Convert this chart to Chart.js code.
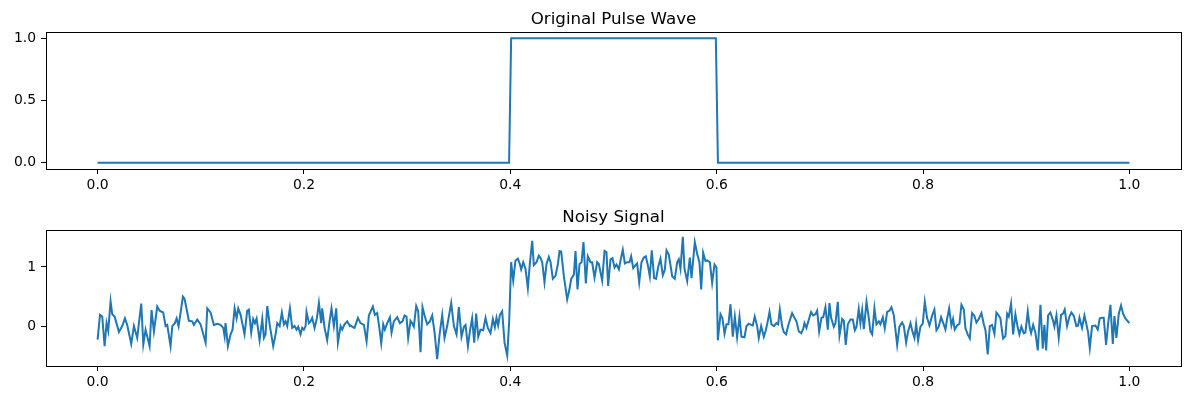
<!DOCTYPE html>
<html>
<head>
<meta charset="utf-8">
<script src="https://cdn.jsdelivr.net/npm/chart.js@4/dist/chart.umd.min.js"></script>
<style>
  body { margin: 0; background: #fff; }
  #wrap { position: relative; width: 1189px; height: 397px; }
  .panel { position: absolute; left: 0; width: 1189px; }
</style>
</head>
<body>
<div id="wrap">
  <div class="panel" style="top:0;height:197px"><canvas id="pulse"></canvas></div>
  <div class="panel" style="top:197px;height:200px"><canvas id="noisy"></canvas></div>
</div>
<script>
// pulse wave (0 outside 0.4..0.6, 1 inside)
const pulseTime = [0, 0.3988, 0.4008, 0.5992, 0.6012, 1.0];
const pulseValue = [0, 0, 1, 1, 0, 0];

// noisy signal
const noisyTime = [
  0.0000, 0.0023, 0.0045, 0.0068, 0.0087, 0.0103, 0.0126, 0.0142, 0.0165, 0.0207,
  0.0239, 0.0265, 0.0287, 0.0326, 0.0352, 0.0384, 0.0423, 0.0443, 0.0465, 0.0504,
  0.0523, 0.0546, 0.0578, 0.0601, 0.0636, 0.0659, 0.0675, 0.0707, 0.0724, 0.0749,
  0.0766, 0.0785, 0.0827, 0.0843, 0.0885, 0.0917, 0.0933, 0.0966, 0.0998, 0.1047,
  0.1063, 0.1095, 0.1127, 0.1160, 0.1192, 0.1218, 0.1231, 0.1240, 0.1263, 0.1289,
  0.1308, 0.1328, 0.1347, 0.1363, 0.1386, 0.1424, 0.1450, 0.1466, 0.1489, 0.1508,
  0.1525, 0.1541, 0.1570, 0.1596, 0.1612, 0.1628, 0.1644, 0.1670, 0.1702, 0.1725,
  0.1741, 0.1764, 0.1786, 0.1806, 0.1822, 0.1838, 0.1864, 0.1886, 0.1909, 0.1928,
  0.1944, 0.1967, 0.1983, 0.1999, 0.2016, 0.2025, 0.2048, 0.2064, 0.2080, 0.2103,
  0.2125, 0.2145, 0.2167, 0.2177, 0.2200, 0.2225, 0.2248, 0.2267, 0.2290, 0.2313,
  0.2329, 0.2355, 0.2371, 0.2393, 0.2419, 0.2445, 0.2452, 0.2477, 0.2490, 0.2523,
  0.2548, 0.2581, 0.2607, 0.2629, 0.2668, 0.2687, 0.2710, 0.2726, 0.2749, 0.2768,
  0.2784, 0.2807, 0.2833, 0.2849, 0.2871, 0.2904, 0.2930, 0.2955, 0.2975, 0.2994,
  0.3010, 0.3033, 0.3049, 0.3065, 0.3088, 0.3107, 0.3130, 0.3149, 0.3169, 0.3194,
  0.3220, 0.3243, 0.3266, 0.3291, 0.3314, 0.3340, 0.3362, 0.3388, 0.3427, 0.3453,
  0.3479, 0.3501, 0.3527, 0.3550, 0.3566, 0.3589, 0.3608, 0.3630, 0.3650, 0.3669,
  0.3689, 0.3711, 0.3737, 0.3760, 0.3782, 0.3808, 0.3831, 0.3850, 0.3866, 0.3882,
  0.3899, 0.3921, 0.3944, 0.3970, 0.3989, 0.4008, 0.4028, 0.4050, 0.4073, 0.4092,
  0.4105, 0.4125, 0.4147, 0.4170, 0.4189, 0.4212, 0.4228, 0.4254, 0.4276, 0.4293,
  0.4309, 0.4331, 0.4351, 0.4373, 0.4390, 0.4412, 0.4438, 0.4461, 0.4477, 0.4493,
  0.4519, 0.4551, 0.4574, 0.4590, 0.4616, 0.4632, 0.4651, 0.4671, 0.4690, 0.4709,
  0.4732, 0.4751, 0.4777, 0.4793, 0.4816, 0.4842, 0.4858, 0.4890, 0.4913, 0.4932,
  0.4948, 0.4971, 0.4990, 0.5010, 0.5029, 0.5052, 0.5068, 0.5090, 0.5110, 0.5133,
  0.5155, 0.5171, 0.5191, 0.5213, 0.5229, 0.5249, 0.5271, 0.5294, 0.5313, 0.5333,
  0.5352, 0.5371, 0.5394, 0.5413, 0.5433, 0.5455, 0.5478, 0.5497, 0.5514, 0.5536,
  0.5569, 0.5594, 0.5617, 0.5633, 0.5649, 0.5672, 0.5688, 0.5714, 0.5740, 0.5756,
  0.5788, 0.5811, 0.5833, 0.5850, 0.5869, 0.5891, 0.5908, 0.5934, 0.5956, 0.5979,
  0.5998, 0.6011, 0.6037, 0.6056, 0.6076, 0.6095, 0.6114, 0.6134, 0.6156, 0.6176,
  0.6198, 0.6221, 0.6240, 0.6269, 0.6289, 0.6311, 0.6334, 0.6350, 0.6369, 0.6392,
  0.6408, 0.6431, 0.6457, 0.6476, 0.6495, 0.6512, 0.6531, 0.6554, 0.6579, 0.6596,
  0.6612, 0.6634, 0.6650, 0.6673, 0.6692, 0.6709, 0.6731, 0.6754, 0.6773, 0.6796,
  0.6819, 0.6838, 0.6851, 0.6870, 0.6893, 0.6915, 0.6935, 0.6957, 0.6974, 0.6993,
  0.7016, 0.7032, 0.7054, 0.7077, 0.7093, 0.7109, 0.7135, 0.7151, 0.7174, 0.7190,
  0.7216, 0.7232, 0.7251, 0.7271, 0.7297, 0.7319, 0.7339, 0.7355, 0.7377, 0.7393,
  0.7410, 0.7426, 0.7452, 0.7474, 0.7490, 0.7507, 0.7529, 0.7548, 0.7571, 0.7587,
  0.7610, 0.7629, 0.7652, 0.7674, 0.7694, 0.7716, 0.7733, 0.7749, 0.7771, 0.7797,
  0.7813, 0.7836, 0.7855, 0.7878, 0.7897, 0.7917, 0.7933, 0.7952, 0.7975, 0.7997,
  0.8017, 0.8039, 0.8062, 0.8088, 0.8110, 0.8130, 0.8152, 0.8175, 0.8194, 0.8217,
  0.8233, 0.8253, 0.8275, 0.8291, 0.8307, 0.8330, 0.8353, 0.8372, 0.8395, 0.8411,
  0.8433, 0.8453, 0.8475, 0.8498, 0.8517, 0.8540, 0.8566, 0.8589, 0.8605, 0.8627,
  0.8647, 0.8669, 0.8692, 0.8711, 0.8734, 0.8750, 0.8760, 0.8776, 0.8798, 0.8815,
  0.8831, 0.8853, 0.8873, 0.8895, 0.8918, 0.8934, 0.8953, 0.8976, 0.8992, 0.9015,
  0.9034, 0.9047, 0.9067, 0.9089, 0.9112, 0.9138, 0.9160, 0.9176, 0.9193, 0.9212,
  0.9234, 0.9257, 0.9273, 0.9293, 0.9315, 0.9338, 0.9357, 0.9373, 0.9396, 0.9419,
  0.9438, 0.9461, 0.9486, 0.9503, 0.9516, 0.9541, 0.9564, 0.9583, 0.9600, 0.9616,
  0.9638, 0.9671, 0.9693, 0.9713, 0.9735, 0.9751, 0.9774, 0.9793, 0.9816, 0.9839,
  0.9855, 0.9874, 0.9897, 0.9919, 0.9939, 0.9961, 1.0000
];
const noisyValue = [
  -0.23, 0.19, 0.16, -0.34, 0.05, -0.08, 0.42, 0.20, 0.16, -0.10,
  0.00, 0.13, 0.02, -0.30, 0.00, -0.20, 0.38, -0.31, -0.06, -0.34,
  0.27, -0.09, 0.33, 0.26, 0.23, 0.00, 0.02, -0.34, 0.00, 0.05,
  0.13, 0.00, 0.50, 0.46, 0.09, 0.08, 0.02, 0.11, 0.03, -0.28,
  0.30, 0.23, 0.02, 0.04, 0.02, -0.03, -0.17, 0.05, -0.34, -0.14,
  -0.06, 0.30, 0.13, 0.30, 0.19, -0.14, 0.26, 0.28, -0.11, 0.12,
  0.05, 0.13, -0.24, 0.12, -0.20, -0.14, 0.34, 0.00, -0.34, -0.14,
  0.05, 0.00, 0.23, 0.03, 0.08, 0.00, 0.30, -0.03, 0.00, -0.06,
  -0.01, -0.14, -0.03, -0.06, 0.00, 0.24, 0.05, 0.08, 0.14, -0.03,
  0.13, 0.39, 0.05, 0.30, -0.03, -0.24, 0.08, 0.30, 0.00, 0.30,
  -0.28, 0.00, -0.06, 0.03, 0.08, 0.00, 0.01, -0.02, -0.03, 0.14,
  0.05, 0.02, -0.26, 0.18, 0.33, 0.19, 0.22, 0.03, -0.29, 0.03,
  -0.06, 0.05, 0.15, -0.11, 0.08, 0.15, 0.05, 0.08, 0.18, 0.16,
  -0.20, 0.09, 0.05, -0.01, 0.34, 0.25, -0.44, 0.32, 0.18, 0.03,
  0.08, 0.18, -0.11, -0.56, -0.15, 0.19, -0.20, 0.00, 0.39, 0.00,
  -0.14, 0.32, -0.18, -0.01, 0.02, -0.34, -0.09, 0.13, -0.28, 0.21,
  -0.18, -0.06, -0.07, 0.14, -0.03, -0.12, 0.12, -0.02, 0.14, 0.01,
  0.19, 0.25, -0.28, -0.50, 0.08, 1.08, 0.77, 1.11, 1.14, 1.05,
  0.96, 1.08, 0.97, 0.64, 1.05, 1.44, 1.03, 1.08, 1.19, 1.15,
  1.08, 0.74, 1.05, 1.17, 1.08, 0.80, 0.85, 1.05, 1.27, 1.26,
  0.84, 0.45, 0.63, 0.80, 0.87, 1.27, 0.62, 1.05, 1.08, 1.42,
  0.72, 1.18, 1.08, 1.08, 0.82, 1.08, 1.05, 0.77, 1.27, 1.25,
  0.68, 1.13, 1.15, 0.99, 1.04, 0.96, 1.11, 1.29, 1.06, 1.08,
  1.08, 1.18, 0.98, 1.03, 1.06, 0.74, 1.08, 1.16, 1.18, 1.03,
  0.84, 1.28, 0.81, 0.80, 1.00, 1.14, 0.86, 0.95, 1.28, 1.21,
  0.84, 0.80, 1.08, 1.13, 0.97, 1.51, 0.97, 0.76, 1.16, 0.81,
  1.42, 1.22, 1.08, 0.62, 1.24, 1.10, 1.11, 1.08, 0.73, 1.04,
  0.99, -0.24, 0.20, 0.13, -0.13, 0.03, 0.03, 0.37, -0.18, 0.16,
  -0.19, 0.16, -0.18, -0.19, 0.00, 0.04, 0.02, 0.01, 0.16, 0.00,
  -0.20, 0.00, -0.18, -0.07, 0.08, 0.24, 0.03, 0.00, 0.05, 0.03,
  0.28, 0.00, -0.10, -0.14, 0.00, 0.10, 0.22, 0.14, 0.08, -0.09,
  -0.12, -0.05, 0.05, -0.03, 0.11, 0.24, 0.18, 0.20, 0.26, -0.09,
  0.14, 0.15, 0.32, -0.06, 0.39, 0.14, -0.01, 0.05, 0.41, -0.16,
  0.12, 0.09, -0.32, 0.03, 0.11, 0.11, -0.07, -0.01, 0.29, 0.05,
  0.27, -0.05, 0.41, 0.14, -0.09, -0.14, 0.30, 0.03, 0.08, 0.03,
  0.15, -0.04, 0.24, 0.26, 0.32, 0.19, -0.07, -0.32, -0.01, 0.06,
  0.01, -0.28, -0.09, 0.05, -0.09, -0.20, 0.04, -0.24, -0.01, 0.04,
  0.41, 0.14, 0.01, 0.18, 0.28, -0.07, -0.01, 0.15, 0.06, -0.06,
  0.12, 0.30, 0.01, 0.12, -0.06, 0.01, 0.04, 0.36, 0.28, -0.04,
  -0.14, -0.21, 0.22, 0.17, 0.06, 0.12, 0.22, 0.03, -0.07, -0.48,
  0.00, 0.02, -0.13, 0.23, 0.18, 0.13, -0.01, -0.21, -0.17, 0.21,
  0.16, 0.38, -0.14, 0.20, -0.03, -0.14, -0.01, -0.12, -0.11, 0.25,
  -0.03, -0.12, 0.02, -0.11, -0.41, 0.36, -0.38, 0.02, -0.41, 0.18,
  0.23, 0.11, -0.01, 0.18, -0.20, 0.19, 0.21, 0.28, 0.00, 0.16,
  0.23, 0.17, 0.00, 0.01, 0.14, -0.03, 0.18, 0.03, -0.11, -0.37,
  0.00, 0.01, -0.06, 0.13, 0.14, 0.14, -0.32, 0.03, 0.36, -0.30,
  0.17, -0.20, 0.21, 0.35, 0.21, 0.13, 0.05
];

const xTicks = [0, 0.2, 0.4, 0.6, 0.8, 1.0];
const pulseTicks = [0, 0.5, 1.0];
const noisyTicks = [0, 1];

const lineBlue = '#1f77b4';
const font = 'DejaVu Sans';

// matplotlib style frame round the plot area, title centred over the axes
const boxPlugin = {
  id: 'box',
  afterDraw(chart, args, opts) {
    const a = chart.chartArea, ctx = chart.ctx;
    ctx.save();
    ctx.strokeStyle = '#000';
    ctx.lineWidth = 1;
    ctx.strokeRect(Math.round(a.left) + 0.5, Math.round(a.top) + 0.5,
      Math.round(a.right - a.left), Math.round(a.bottom - a.top));
    ctx.fillStyle = '#000';
    ctx.font = '16.7px "DejaVu Sans"';
    ctx.textAlign = 'center';
    ctx.textBaseline = 'alphabetic';
    ctx.fillText(opts.text, (a.left + a.right) / 2, a.top - 8);
    ctx.restore();
  }
};

const makePanel = (el, title, xs, ys, yMin, yMax, yTicks, yFmt, padTop, xHeight) => {
  const points = xs.map((x, i) => ({x: x, y: ys[i]}));
  const axisBits = {
    grid: { drawOnChartArea: false, drawTicks: true, tickLength: 5, color: '#000', tickColor: '#000' },
    border: { display: true, color: '#000', width: 1 }
  };
  return new Chart(el, {
    type: 'line',
    data: {
      datasets: [{
        data: points,
        borderColor: lineBlue,
        borderWidth: 2,
        pointRadius: 0,
        tension: 0,
        fill: false
      }]
    },
    options: {
      responsive: true,
      maintainAspectRatio: false,
      animation: false,
      layout: { padding: { left: 0, right: 8, top: padTop, bottom: 0 } },
      plugins: {
        legend: { display: false },
        tooltip: { enabled: false },
        title: { display: false },
        box: { text: title }
      },
      scales: {
        x: {
          type: 'linear',
          min: -0.05,
          max: 1.05,
          ...axisBits,
          ticks: {
            color: '#000',
            padding: 3,
            font: { family: font, size: 13.9 },
            callback: v => v.toFixed(1)
          },
          afterBuildTicks: s => { s.ticks = xTicks.map(v => ({value: v})); },
          afterFit: s => { s.height = xHeight; }
        },
        y: {
          min: yMin,
          max: yMax,
          ...axisBits,
          ticks: {
            color: '#000',
            padding: 5,
            font: { family: font, size: 13.9 },
            callback: yFmt
          },
          afterBuildTicks: s => { s.ticks = yTicks.map(v => ({value: v})); },
          afterFit: s => { s.width = 46; }
        }
      }
    },
    plugins: [boxPlugin]
  });
};

makePanel(document.getElementById('pulse'), 'Original Pulse Wave',
  pulseTime, pulseValue, -0.05, 1.05, pulseTicks, v => v.toFixed(1), 32, 28);
makePanel(document.getElementById('noisy'), 'Noisy Signal',
  noisyTime, noisyValue, -0.675, 1.625, noisyTicks, v => String(v), 33, 31);
</script>
</body>
</html>
